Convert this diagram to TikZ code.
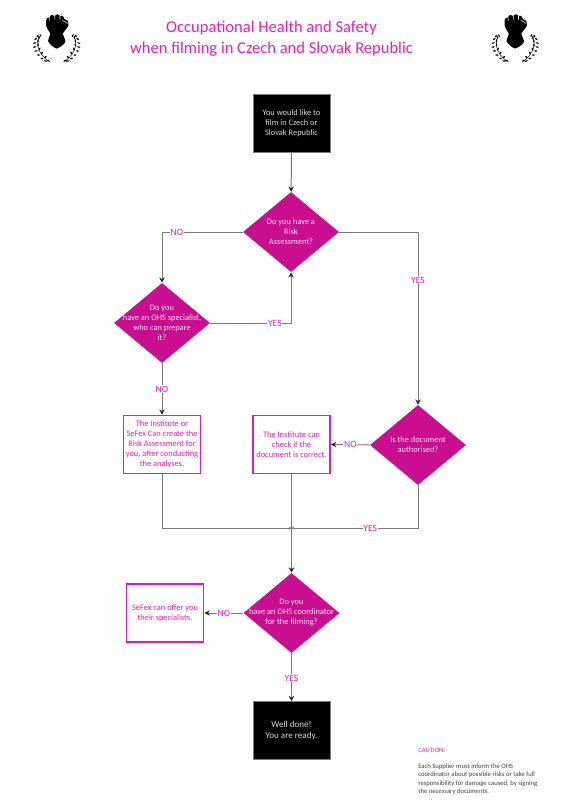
\documentclass[tikz,border=0pt]{standalone}
\usepackage{fontspec}
\setmainfont{Carlito}
\usetikzlibrary{shapes.geometric,arrows.meta}
\definecolor{dmag}{HTML}{C90E8F}
\definecolor{pinktxt}{HTML}{EA1FAE}
\definecolor{pinkln}{HTML}{E81CA8}
\definecolor{lne}{HTML}{7A7A7A}
\tikzset{
 smalltxt/.style={font=\fontsize{6.3}{7.5}\selectfont,align=center},
 termbox/.style={draw=lne,line width=.4pt,fill=black,text=white!85!black,smalltxt,minimum width=57.75pt,minimum height=43.5pt,inner sep=0pt},
 infobox/.style={draw=pinkln,line width=1.2pt,fill=white,text=pinktxt,smalltxt,minimum width=58pt,minimum height=43.5pt,inner sep=0pt},
 decision/.style={diamond,fill=dmag,text=white!88!dmag,smalltxt,aspect=1.2,inner sep=-8pt,minimum width=72pt,minimum height=60pt},
 conn/.style={draw=lne,line width=.75pt,-{Stealth[length=4pt,width=4pt,color=black!85]}},
 mergeconn/.style={draw=lne,line width=.75pt,-{Stealth[length=2pt,width=2.4pt,color=lne]}},
 plain/.style={draw=lne,line width=.75pt},
 lab/.style={fill=white,text=pinktxt,font=\fontsize{7.2}{8}\selectfont,inner sep=.6pt},
 pics/fistlogo/.style={code={
  \fill[black] (26,16) .. controls (26,13) and (28,12) .. (29.5,12.5)
     .. controls (30,9.5) and (33.5,9.3) .. (34.7,11)
     .. controls (35.5,8.6) and (39,8.6) .. (40,10.8)
     .. controls (41.5,10) and (44.5,11) .. (44.5,14)
     .. controls (47.5,14) and (49,17) .. (48.5,20)
     .. controls (47.5,24) and (44,25) .. (42.8,28.5)
     .. controls (43,32) and (46,34.5) .. (45.3,37)
     .. controls (44,40) and (39,43) .. (36.5,43.5)
     .. controls (33,42.5) and (29,38.5) .. (28,36)
     .. controls (27.5,33) and (31,31) .. (30,28)
     .. controls (28.5,25) and (25.5,23) .. (26,16) -- cycle;
  \draw[white,line width=.4pt] (29.5,12.5) -- (29.8,15.5) (34.7,11) -- (34.9,14.5) (40,10.8) -- (40,14.5)
     (42,15.5) .. controls (44,16.5) and (46,16.5) .. (47.5,18.5);
  \foreach \px/\py/\a in {
    28/55.5/15, 25.5/56/-25, 25.5/52/40, 22/53.5/-15, 22/48/50, 18.5/50/-5,
    19.5/44/60, 16/46/5, 18/40/70, 14.7/42/15, 18/36/85, 14.7/38/25,
    19/32.5/100, 15.7/34/35, 20.5/30.5/115, 17.5/31/55}{
    \fill[black,shift={(\px,\py)},rotate=\a] (0,0) ellipse [x radius=1.8,y radius=.8];
    \fill[black,shift={({73.4-\px},\py)},rotate=-\a] (0,0) ellipse [x radius=1.8,y radius=.8];
  }
  \draw[black,line width=.35pt] (30,57) .. controls (21.5,52) and (14.5,42) .. (19.5,31);
  \draw[black,line width=.35pt] (43.4,57) .. controls (51.9,52) and (58.9,42) .. (53.9,31);
 }}
}
\begin{document}
\begin{tikzpicture}[x=.75pt,y=-.75pt]
\useasboundingbox (0,0) rectangle (575,800);
\pic (logoa) at (20,5) {fistlogo};
\pic (logob) at (478.5,5) {fistlogo};
\node[text=pinktxt,font=\fontsize{12.4}{15.4}\selectfont,align=center] (title) at (271.5,38.5) {Occupational Health and Safety\\when filming in Czech and Slovak Republic};
\node[termbox] (start) at (291.5,123.5) {You would like to\\film in Czech or\\Slovak Republic};
\node[decision] (d1) at (291,232) {Do you have a\\Risk\\Assessment?};
\node[decision] (d2) at (162,323) {Do you\\have an OHS specialist,\\who can prepare\\it?};
\node[decision] (d3) at (418,445) {Is the document\\authorised?};
\node[infobox] (b1) at (162,444.5) {The Institute or\\SeFex Can create the\\Risk Assessment for\\you, after conducting\\the analyses.};
\node[infobox] (b2) at (291.5,444.5) {The Institute can\\check if the\\document is correct.};
\node[decision] (d4) at (291.5,613) {Do you\\have an OHS coordinator\\for the filming?};
\node[infobox] (b3) at (165,613) {SeFex can offer you\\their specialists.};
\node[termbox,font=\fontsize{6.8}{8}\selectfont] (end) at (291.5,730.5) {Well done!\\You are ready.};
\coordinate (j) at (291.5,528);
\draw[conn] (start) -- (d1);
\draw[conn] (d1.west) -| node[lab,pos=.407] {NO} (d2.north);
\draw[conn] (d2.east) -| node[lab,pos=.40] {YES} (d1.south);
\draw[conn] (d2.south) -- node[lab,pos=.5] {NO} (b1.north);
\draw[conn] (d1.east) -| node[lab,pos=.639] {YES} (d3.north);
\draw[conn] (d3.west) -- node[lab,pos=.5] {NO} (b2.east);
\draw[plain] (b2.south) -- (j);
\draw[mergeconn] (b1.south) |- (j);
\draw[mergeconn] (d3.south) |- node[lab,pos=.689] {YES} (j);
\draw[conn] (j) -- (d4.north);
\draw[conn] (d4.west) -- node[lab,pos=.5] {NO} (b3.east);
\draw[conn] (d4.south) -- node[lab,pos=.52] {YES} (end.north);
\node[anchor=north west,inner sep=0pt,align=left,text=pinktxt,font=\fontsize{5}{6.3}\selectfont] (caution) at (418,748) {CAUTION:};
\node[anchor=north west,inner sep=0pt,align=left,text=black!75,font=\fontsize{5}{6.3}\selectfont] (note) at (418,763.5) {Each Supplier must inform the OHS\\coordinator about possible risks or take full\\responsibility for damage caused, by signing\\the necessary documents.};
\end{tikzpicture}
\end{document}
